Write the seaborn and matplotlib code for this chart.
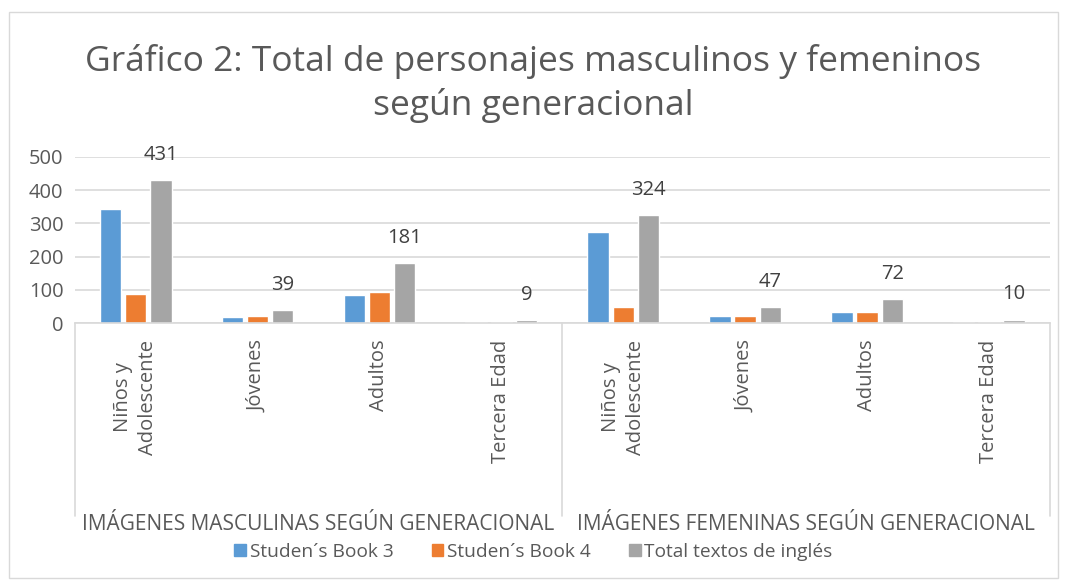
import numpy as np
import pandas as pd
import matplotlib
matplotlib.use("Agg")
import matplotlib.pyplot as plt
import matplotlib.patches as mpatches
import seaborn as sns

# ---------------------------------------------------------------
# data
# ---------------------------------------------------------------
groups = ["IMÁGENES MASCULINAS SEGÚN GENERACIONAL", "IMÁGENES FEMENINAS SEGÚN GENERACIONAL"]
ages = ["Niños y\nAdolescente", "Jóvenes", "Adultos", "Tercera Edad"]
series = ["Studen´s Book 3", "Studen´s Book 4", "Total textos de inglés"]

book3 = [342, 17, 85, 3, 275, 21, 34, 2]
book4 = [88, 22, 94, 2, 47, 22, 34, 4]
total = [431, 39, 181, 9, 324, 47, 72, 10]

colors = ["#5B9BD5", "#ED7D31", "#A5A5A5"]
text_col = "#595959"
fs = 14.5

cats = [f"{gi}-{a}" for gi in range(len(groups)) for a in ages]
df = pd.DataFrame({
    "cat": cats * 3,
    "serie": np.repeat(series, len(cats)),
    "valor": book3 + book4 + total,
})

sns.set_style("white")
plt.rcParams["font.family"] = ["Open Sans", "DejaVu Sans"]

fig = plt.figure(figsize=(10.67, 5.81), dpi=100)
ax = fig.add_axes([0.070, 0.444, 0.914, 0.286])

sns.barplot(data=df, x="cat", y="valor", hue="serie", order=cats, hue_order=series,
            palette=colors, saturation=1, width=0.62, gap=0.15, errorbar=None,
            ax=ax, legend=False)

ax.set_ylim(0, 500)
ax.set_yticks(range(0, 501, 100))
ax.set_xlim(-0.5, len(cats) - 0.5)
ax.yaxis.grid(True, color="#D9D9D9", lw=1.2)
ax.set_axisbelow(True)
for s in ["top", "right", "left"]:
    ax.spines[s].set_visible(False)
ax.spines["bottom"].set_color("#D9D9D9")
ax.spines["bottom"].set_linewidth(1.2)
ax.set_xlabel("")
ax.set_ylabel("")
ax.tick_params(axis="y", length=0, labelsize=fs, labelcolor=text_col, pad=8)
ax.tick_params(axis="x", length=0, labelsize=fs, labelcolor=text_col, pad=12)
ax.set_xticks(range(len(cats)))
ax.set_xticklabels(ages * 2, rotation=90, linespacing=1.3)

# value labels on the total series only
total_bars = ax.containers[2]
for rect, v in zip(total_bars, total):
    ax.annotate(str(v), (rect.get_x() + rect.get_width() / 2, rect.get_height()),
                xytext=(0, 11), textcoords="offset points", ha="center", va="bottom",
                fontsize=fs, color="#404040")

# group labels and separators below the axis
trans = ax.get_xaxis_transform()
for xpos in [-0.5, 3.5, 7.5]:
    ax.plot([xpos, xpos], [0, -1.16], transform=trans, color="#D9D9D9", lw=1.2, clip_on=False)
for i, g in enumerate(groups):
    ax.text(1.5 + 4 * i, -1.21, g, transform=trans, ha="center", va="center",
            fontsize=fs + 0.5, color=text_col)

fig.text(0.5, 0.895, "Gráfico 2: Total de personajes masculinos y femeninos",
         ha="center", va="center", fontsize=25.5, color=text_col)
fig.text(0.5, 0.818, "según generacional", ha="center", va="center", fontsize=25.5, color=text_col)

handles = [mpatches.Patch(color=c, label=s) for c, s in zip(colors, series)]
fig.legend(handles=handles, loc="center", bbox_to_anchor=(0.5, 0.05), ncol=3, frameon=False,
           fontsize=fs - 0.7, handlelength=0.6, handleheight=0.6, handletextpad=0.2,
           columnspacing=2.0, labelcolor=text_col)

fig.patches.append(mpatches.Rectangle((0.008, 0.006), 0.984, 0.974, transform=fig.transFigure,
                                      fill=False, edgecolor="#D9D9D9", lw=1))

fig.savefig("out.png", dpi=100)
